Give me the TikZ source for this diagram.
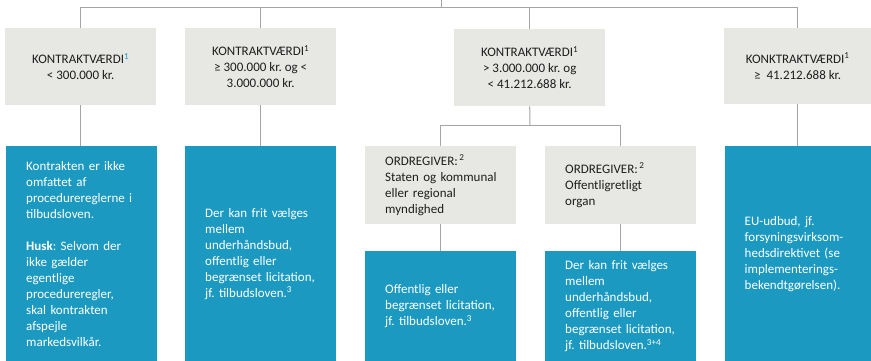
\documentclass[tikz,border=0pt]{standalone}
\usepackage{fontspec}
\setmainfont{Carlito}
\frenchspacing
\definecolor{boxgray}{HTML}{E7E7E4}
\definecolor{boxblue}{HTML}{1B99C0}
\definecolor{linegray}{HTML}{A5A5A5}
\definecolor{txt}{HTML}{1E1E1E}
\newcommand\myboxfont{\fontsize{13}{16}\selectfont\frenchspacing\hyphenpenalty=10000 \exhyphenpenalty=10000\relax}
\tikzset{
  txtfont/.style={font=\myboxfont},
  gbox/.style={txtfont, fill=boxgray, inner sep=0pt, anchor=north west, align=center, text=txt, minimum height=77pt},
  gboxl/.style={txtfont, fill=boxgray, inner sep=0pt, anchor=north west, align=left, text=txt, minimum height=78pt, minimum width=151pt, text width=111pt},
  bbox/.style={txtfont, fill=boxblue, inner sep=0pt, anchor=north west, align=left, text=white},
  conn/.style={draw=linegray, line width=1pt}
}
\begin{document}
\begin{tikzpicture}[x=1pt,y=-1pt]
\useasboundingbox (0,0) rectangle (871,361);
% top gray boxes
\node[gbox, minimum width=151pt] (g1) at (5,28) {KONTRAKTVÆRDI\textsuperscript{\textcolor{boxblue}{1}}\\< 300.000 kr.};
\node[gbox, minimum width=151pt] (g2) at (185,28) {KONTRAKTVÆRDI\textsuperscript{1}\\≥ 300.000 kr. og <\\3.000.000 kr.};
\node[gbox, minimum width=151pt] (g3) at (454,29) {KONTRAKTVÆRDI\textsuperscript{1}\\> 3.000.000 kr. og\\< 41.212.688 kr.};
\node[gbox, minimum width=147pt, minimum height=76pt] (g4) at (724,28) {KONKTRAKTVÆRDI\textsuperscript{1}\\≥\ \ 41.212.688 kr.};
% sub gray boxes
\node[gboxl] (s1) at (365,146) {ORDREGIVER:\textsuperscript{\,2}\\\mbox{Staten og kommunal}\\eller regional\\myndighed};
\node[gboxl] (s2) at (545,146) {ORDREGIVER:\textsuperscript{\,2}\\Offentligretligt\\organ};
% blue boxes
\node[bbox, minimum width=151pt, minimum height=215pt, text width=111pt] (b1) at (6,146) {Kontrakten er ikke\\omfattet af\\procedurereglerne i\\tilbudsloven.\\[16pt]\textbf{Husk}: Selvom der\\ikke gælder\\egentlige\\procedureregler,\\skal kontrakten\\afspejle\\markedsvilkår.};
\node[bbox, minimum width=151pt, minimum height=215pt, text width=111pt] (b2) at (185,146) {Der kan frit vælges\\mellem\\underhåndsbud,\\offentlig eller\\begrænset licitation,\\jf. tilbudsloven.\textsuperscript{3}};
\node[bbox, minimum width=151pt, minimum height=110pt, text width=111pt] (t1) at (365,251) {Offentlig eller\\begrænset licitation,\\jf. tilbudsloven.\textsuperscript{3}};
\node[bbox, minimum width=151pt, minimum height=110pt, text width=111pt] (t2) at (545,251) {Der kan frit vælges\\mellem\\underhåndsbud,\\offentlig eller\\begrænset licitation,\\jf. tilbudsloven.\textsuperscript{3+4}};
\node[bbox, minimum width=146pt, minimum height=215pt, text width=107pt] (b4) at (725,146) {EU-udbud, jf.\\forsyningsvirksom-\\hedsdirektivet (se\\implementerings-\\bekendtgørelsen).};
% connectors
\coordinate (top) at (441,-1);
\coordinate (j) at (441,8);
\coordinate (j2) at (530,125);
\draw[conn] (top) -- (j);
\draw[conn] (g1.north) |- (j);
\draw[conn] (g2.north) |- (j);
\draw[conn] (g3.north) |- (j);
\draw[conn] (g4.north) |- (j);
\draw[conn] (g1.south) -- (g1.south |- b1.north);
\draw[conn] (g2.south) -- (g2.south |- b2.north);
\draw[conn] (g4.south) -- (g4.south |- b4.north);
\draw[conn] (g3.south) -- (j2);
\draw[conn] (s1.north) |- (j2);
\draw[conn] (s2.north) |- (j2);
\draw[conn] (s1.south) -- (t1.north);
\draw[conn] (s2.south) -- (t2.north);
\end{tikzpicture}
\end{document}
